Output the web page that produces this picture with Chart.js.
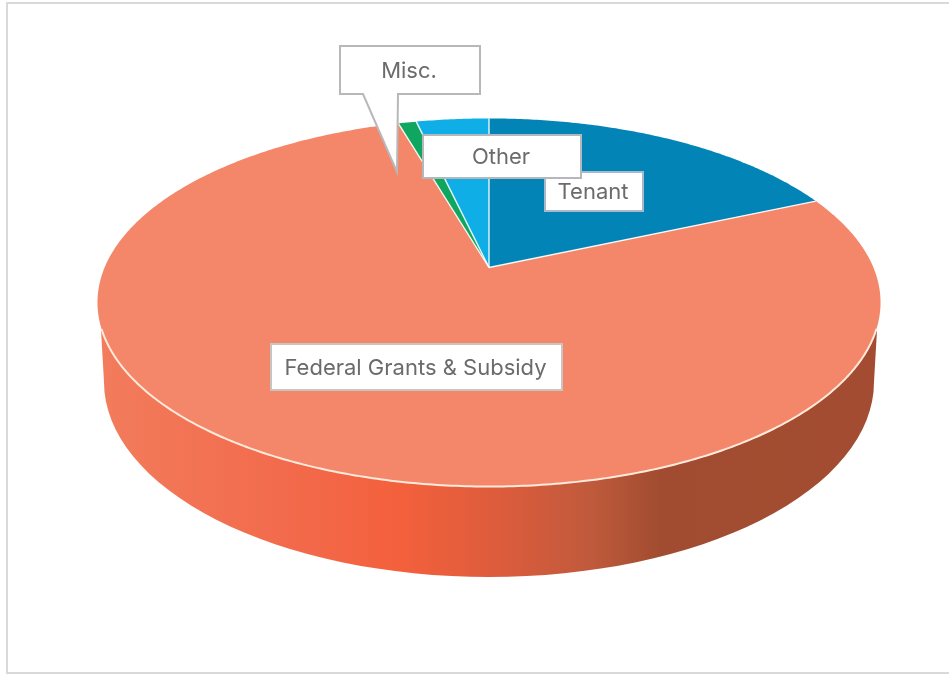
<!DOCTYPE html>
<html>
<head>
<meta charset="utf-8">
<title>Revenue sources</title>
<script src="https://cdn.jsdelivr.net/npm/chart.js@4"></script>
<style>
    html, body { margin: 0; padding: 0; background: #fff; }
    canvas { display: block; }
</style>
</head>
<body>
<canvas id="revenue_pie" width="949" height="675"></canvas>
<script>
"use strict";

var categories = ["Tenant", "Federal Grants & Subsidy", "Misc.", "Other"];
var shares = [18.4, 77.1, 0.9, 3.6];
var sliceColors = ["#0284b7", "#f4866a", "#0fa75f", "#10aee6"];

// tilted pie: apex of the slices and the projection of the unit circle
var apexX = 489, apexY = 267.5;
var widthScale = 384.4, depthScale = 177.4, perspective = -0.19;

// bottom rim of the side wall
var rimCy = 382, rimRx = 385, rimRy = 195;
var topRimY = 330, wallLeft = 101, wallRight = 877;

var wallStops = [
    [0, "#f27c5c"], [0.26, "#f2694a"], [0.385, "#f4603c"], [0.513, "#dc5c3c"],
    [0.628, "#c05a3c"], [0.718, "#a14c30"], [1, "#a34c31"]
];

// callouts, in drawing order (index into categories)
var callouts = [
    { cat: 1, x: 271, y: 344, w: 291, h: 46, border: "#c9c3c1" },
    { cat: 2, x: 340, y: 46, w: 140, h: 48, border: "#b8b8b8", tail: [363, 398, 397, 172] },
    { cat: 0, x: 545, y: 172, w: 98, h: 39, border: "#a9b9cc" },
    { cat: 3, x: 423, y: 135, w: 158, h: 43, border: "#b4b8bc" }
];

function project(angle) {
    var x = Math.cos(angle), y = Math.sin(angle);
    var w = 1 + perspective * y;
    return { x: apexX + widthScale * x / w, y: apexY + depthScale * y / w };
}

function drawFrame(ctx) {
    ctx.fillStyle = "#fff";
    ctx.fillRect(0, 0, 949, 675);
    ctx.fillStyle = "#d9d9d9";
    ctx.fillRect(6, 2, 943, 2);
    ctx.fillRect(6, 2, 2, 672);
    ctx.fillRect(6, 672, 943, 2);
}

function drawWall(ctx) {
    var grad = ctx.createLinearGradient(100, 0, 880, 0);
    wallStops.forEach(function (s) { grad.addColorStop(s[0], s[1]); });
    ctx.beginPath();
    ctx.moveTo(wallLeft, topRimY);
    ctx.lineTo(apexX - rimRx, rimCy);
    ctx.ellipse(apexX, rimCy, rimRx, rimRy, 0, Math.PI, 0, true);
    ctx.lineTo(wallRight, topRimY);
    ctx.closePath();
    ctx.fillStyle = grad;
    ctx.fill();
}

function drawSlice(ctx, arc, color) {
    var steps = Math.max(2, Math.ceil((arc.endAngle - arc.startAngle) / 0.01));
    ctx.beginPath();
    ctx.moveTo(apexX, apexY);
    for (var i = 0; i <= steps; i++) {
        var p = project(arc.startAngle + (arc.endAngle - arc.startAngle) * i / steps);
        ctx.lineTo(p.x, p.y);
    }
    ctx.closePath();
    ctx.fillStyle = color;
    ctx.fill();
}

function drawEdges(ctx, arcs) {
    // white spokes between slices
    ctx.strokeStyle = "rgba(255, 255, 255, 0.9)";
    ctx.lineWidth = 1.4;
    arcs.forEach(function (arc) {
        var p = project(arc.startAngle);
        ctx.beginPath();
        ctx.moveTo(apexX, apexY);
        ctx.lineTo(p.x, p.y);
        ctx.stroke();
    });
    // pale line along the front rim, only where the wall shows below it
    ctx.strokeStyle = "#ffeadb";
    ctx.lineWidth = 2;
    ctx.beginPath();
    var first = true;
    for (var a = 0.33; a <= Math.PI - 0.33; a += 0.01) {
        var q = project(a);
        if (first) ctx.moveTo(q.x, q.y); else ctx.lineTo(q.x, q.y);
        first = false;
    }
    ctx.stroke();
}

function drawCallout(ctx, c) {
    ctx.beginPath();
    ctx.moveTo(c.x, c.y);
    ctx.lineTo(c.x + c.w, c.y);
    ctx.lineTo(c.x + c.w, c.y + c.h);
    if (c.tail) {
        ctx.lineTo(c.tail[1], c.y + c.h);
        ctx.lineTo(c.tail[2], c.tail[3]);
        ctx.lineTo(c.tail[0], c.y + c.h);
    }
    ctx.lineTo(c.x, c.y + c.h);
    ctx.closePath();
    ctx.fillStyle = "#fff";
    ctx.fill();
    ctx.strokeStyle = c.border;
    ctx.lineWidth = 2;
    ctx.stroke();

    ctx.fillStyle = "#6b6b6b";
    ctx.font = "22px Inter";
    ctx.textAlign = "center";
    ctx.textBaseline = "middle";
    ctx.fillText(categories[c.cat], c.x + c.w / 2 - 1, c.y + c.h / 2 + 1);
}

// the arc elements hold the angles, this plugin paints them in perspective
var tiltedPie = {
    id: "tiltedPie",
    beforeDatasetsDraw: function (chart) {
        var ctx = chart.ctx;
        var arcs = chart.getDatasetMeta(0).data;
        ctx.save();
        drawFrame(ctx);
        drawWall(ctx);
        arcs.forEach(function (arc, i) {
            drawSlice(ctx, arc, sliceColors[i]);
        });
        drawEdges(ctx, arcs);
        callouts.forEach(function (c) { drawCallout(ctx, c); });
        ctx.restore();
        return false;
    }
};

new Chart(document.getElementById("revenue_pie").getContext("2d"), {
    type: "pie",
    data: {
        labels: categories,
        datasets: [{ data: shares, backgroundColor: sliceColors }]
    },
    options: {
        responsive: false,
        animation: false,
        rotation: 0,
        plugins: {
            legend: { display: false },
            tooltip: { enabled: false }
        }
    },
    plugins: [tiltedPie]
});
</script>
</body>
</html>
